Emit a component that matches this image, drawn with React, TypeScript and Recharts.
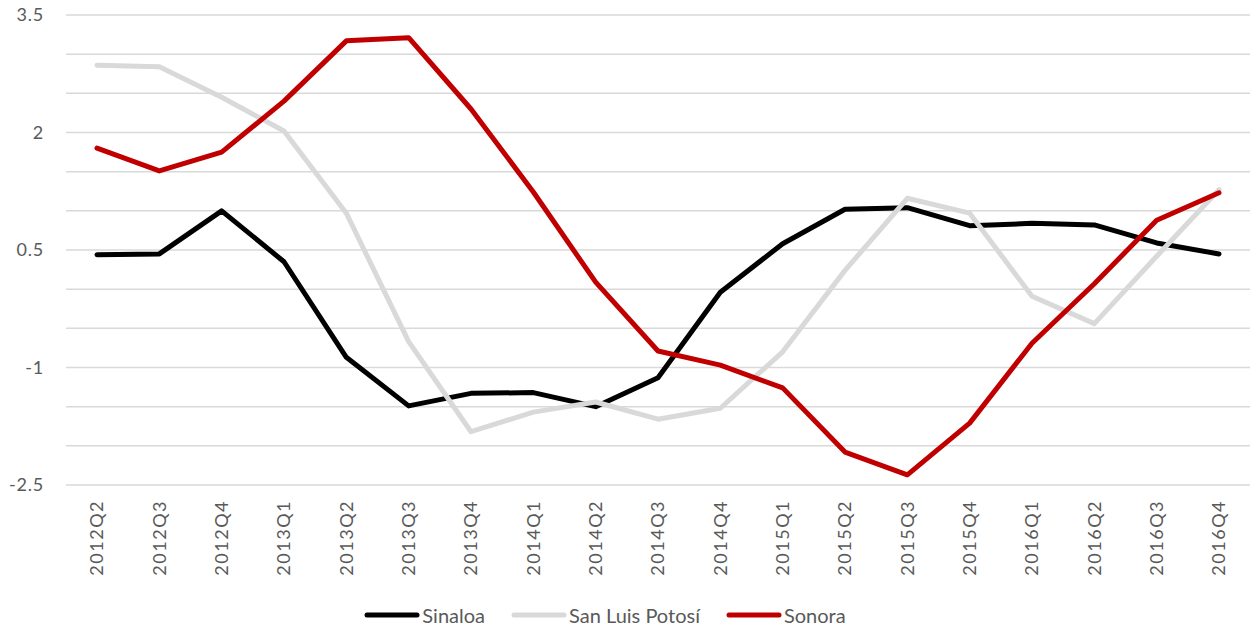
import { CartesianGrid, Legend, Line, LineChart, XAxis, YAxis } from "recharts";

// Quarters on the x axis
const quarters = [
  "2012Q2", "2012Q3", "2012Q4", "2013Q1", "2013Q2", "2013Q3", "2013Q4",
  "2014Q1", "2014Q2", "2014Q3", "2014Q4", "2015Q1", "2015Q2", "2015Q3",
  "2015Q4", "2016Q1", "2016Q2", "2016Q3", "2016Q4",
];

const sinaloa = [
  0.44, 0.45, 1.0, 0.35, -0.87, -1.49, -1.33, -1.32, -1.5, -1.13,
  -0.04, 0.58, 1.02, 1.04, 0.81, 0.84, 0.82, 0.59, 0.45,
];
const sanLuisPotosi = [
  2.86, 2.84, 2.45, 2.02, 0.97, -0.67, -1.82, -1.57, -1.44, -1.66,
  -1.52, -0.8, 0.24, 1.16, 0.97, -0.09, -0.44, 0.42, 1.27,
];
const sonora = [
  1.8, 1.51, 1.75, 2.4, 3.17, 3.21, 2.3, 1.24, 0.09, -0.79,
  -0.97, -1.26, -2.08, -2.37, -1.71, -0.69, 0.07, 0.88, 1.23,
];

const yTicks = [-2.5, -2, -1.5, -1, -0.5, 0, 0.5, 1, 1.5, 2, 2.5, 3, 3.5];
const yLabels = [-2.5, -1, 0.5, 2, 3.5];

const series = [
  { key: "sinaloa", name: "Sinaloa", color: "#000000" },
  { key: "slp", name: "San Luis Potosí", color: "#d9d9d9" },
  { key: "sonora", name: "Sonora", color: "#c00000" },
];

const data = quarters.map((q, i) => ({
  q,
  sinaloa: sinaloa[i],
  slp: sanLuisPotosi[i],
  sonora: sonora[i],
}));

const FONT = "Lato, 'Open Sans', sans-serif";
const TEXT = "#595959";

function YTick(props: any) {
  const { x, y, payload } = props;
  if (!yLabels.includes(payload.value)) return null;
  return (
    <text x={x} y={y} dy="0.35em" textAnchor="end" fill={TEXT} fontSize={18} letterSpacing={0.8} fontFamily={FONT}>
      {payload.value}
    </text>
  );
}

function XTick(props: any) {
  const { x, y, payload } = props;
  return (
    <g transform={`translate(${x},${y})`}>
      <text transform="rotate(-90)" textAnchor="end" dy="0.35em" fill={TEXT} fontSize={18} letterSpacing={1.5} fontFamily={FONT}>
        {payload.value}
      </text>
    </g>
  );
}

function LegendBox() {
  return (
    <div
      style={{
        height: 43,
        display: "flex",
        justifyContent: "center",
        alignItems: "flex-end",
        paddingRight: 40,
        boxSizing: "border-box",
        paddingBottom: 1,
        fontFamily: FONT,
        fontSize: 20,
        color: TEXT,
      }}
    >
      {series.map((s) => (
        <div key={s.key} style={{ display: "flex", alignItems: "center", margin: "0 13px" }}>
          <svg width={56} height={10}>
            <line x1={3} y1={5} x2={53} y2={5} stroke={s.color} strokeWidth={5} strokeLinecap="round" />
          </svg>
          <span style={{ marginLeft: 2 }}>{s.name}</span>
        </div>
      ))}
    </div>
  );
}

export default function App() {
  return (
    <div style={{ width: 1256, height: 628, background: "#fff" }}>
      <style>{"body{margin:0}"}</style>
      <LineChart width={1256} height={628} data={data} margin={{ top: 15, right: 6, bottom: 0, left: 0 }}>
        <CartesianGrid vertical={false} stroke="#d9d9d9" strokeWidth={1.5} />
        <XAxis
          dataKey="q"
          axisLine={false}
          tickLine={false}
          tickSize={0}
          tickMargin={15}
          interval={0}
          height={100}
          padding={{ left: 31, right: 31 }}
          tick={<XTick />}
        />
        <YAxis
          domain={[-2.5, 3.5]}
          ticks={yTicks}
          interval={0}
          axisLine={false}
          tickLine={false}
          tickSize={0}
          tickMargin={22}
          width={66}
          tick={<YTick />}
        />
        <Legend verticalAlign="bottom" content={<LegendBox />} />
        {series.map((s) => (
          <Line
            key={s.key}
            type="linear"
            dataKey={s.key}
            name={s.name}
            stroke={s.color}
            strokeWidth={5}
            strokeLinecap="round"
            strokeLinejoin="round"
            dot={false}
            activeDot={false}
            isAnimationActive={false}
          />
        ))}
      </LineChart>
    </div>
  );
}
